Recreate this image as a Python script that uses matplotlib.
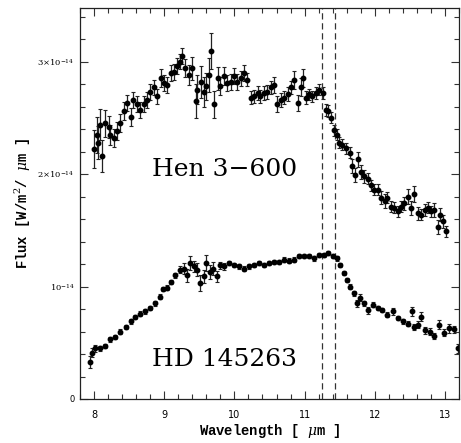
import matplotlib
matplotlib.use("Agg")
import matplotlib.pyplot as plt
from matplotlib.ticker import MultipleLocator, FixedLocator, FixedFormatter

# ---- data (flux in units of 1e-14 W/m^2/um) ----
hen_wave = [8.00, 8.04, 8.06, 8.09, 8.12, 8.16, 8.21, 8.23, 8.28, 8.33,
            8.37, 8.42, 8.47, 8.52, 8.56, 8.61, 8.66, 8.71, 8.76, 8.80,
            8.85, 8.90, 8.95, 8.99, 9.04, 9.09, 9.14, 9.18, 9.23, 9.26,
            9.30, 9.35, 9.40, 9.45, 9.47, 9.52, 9.56, 9.59, 9.64, 9.67,
            9.71, 9.76, 9.80, 9.85, 9.90, 9.95, 9.99, 10.04, 10.09, 10.14,
            10.18, 10.23, 10.28, 10.33, 10.37, 10.42, 10.47,
            10.52, 10.56, 10.61, 10.66, 10.71, 10.76, 10.80, 10.85, 10.91, 10.95,
            10.98, 11.02, 11.06, 11.11, 11.16, 11.21, 11.26, 11.30, 11.34, 11.37,
            11.42, 11.46, 11.49, 11.54, 11.59, 11.64, 11.68, 11.72, 11.76, 11.80,
            11.85, 11.90, 11.95, 11.99, 12.04, 12.09, 12.14, 12.18, 12.23, 12.28,
            12.33, 12.37, 12.42, 12.47, 12.52, 12.56, 12.61, 12.66, 12.71, 12.76,
            12.80, 12.85, 12.90, 12.93, 12.97, 13.02]
hen_flux = [2.22, 2.35, 2.28, 2.44, 2.16, 2.45, 2.42, 2.35, 2.32, 2.38,
            2.45, 2.56, 2.63, 2.51, 2.66, 2.62, 2.57, 2.62, 2.66, 2.73,
            2.77, 2.69, 2.85, 2.81, 2.79, 2.90, 2.91, 2.96, 3.00, 3.05,
            2.94, 2.88, 2.94, 2.65, 2.75, 2.82, 2.73, 2.78, 2.88, 3.09,
            2.62, 2.85, 2.78, 2.87, 2.81, 2.82, 2.87, 2.82, 2.85, 2.90,
            2.84, 2.68, 2.69, 2.72, 2.69, 2.72, 2.73,
            2.77, 2.79, 2.62, 2.66, 2.68, 2.71, 2.77, 2.84, 2.63, 2.77,
            2.85, 2.68, 2.71, 2.69, 2.72, 2.75, 2.72, 2.57, 2.56, 2.50,
            2.39, 2.35, 2.28, 2.26, 2.23, 2.19, 2.07, 1.99, 2.13, 2.02,
            1.98, 1.96, 1.90, 1.86, 1.86, 1.79, 1.76, 1.79, 1.71, 1.70,
            1.67, 1.71, 1.74, 1.80, 1.70, 1.82, 1.65, 1.64, 1.68, 1.70,
            1.67, 1.68, 1.53, 1.64, 1.58, 1.49]
hen_err = [0.17, 0.16, 0.15, 0.14, 0.14, 0.12, 0.10, 0.09, 0.08, 0.08,
           0.08, 0.08, 0.07, 0.08, 0.07, 0.07, 0.07, 0.07, 0.07, 0.07,
           0.07, 0.07, 0.08, 0.07, 0.07, 0.07, 0.07, 0.07, 0.07, 0.07,
           0.08, 0.09, 0.10, 0.15, 0.13, 0.14, 0.13, 0.12, 0.15, 0.16,
           0.12, 0.10, 0.08, 0.08, 0.07, 0.07, 0.07, 0.07, 0.07, 0.07,
           0.06, 0.06, 0.06, 0.06, 0.06, 0.06, 0.06,
           0.06, 0.07, 0.07, 0.06, 0.06, 0.06, 0.06, 0.08, 0.07, 0.08,
           0.08, 0.06, 0.05, 0.05, 0.05, 0.05, 0.05, 0.05, 0.05, 0.05,
           0.05, 0.05, 0.05, 0.05, 0.05, 0.05, 0.06, 0.06, 0.07, 0.06,
           0.06, 0.05, 0.05, 0.05, 0.05, 0.06, 0.06, 0.05, 0.05, 0.05,
           0.05, 0.05, 0.06, 0.07, 0.06, 0.07, 0.06, 0.05, 0.05, 0.05,
           0.05, 0.06, 0.06, 0.06, 0.06, 0.05]

hd_wave = [7.94, 7.97, 8.02, 8.09, 8.16, 8.23, 8.30, 8.37, 8.45, 8.52,
           8.59, 8.66, 8.73, 8.80, 8.87, 8.94, 8.98, 9.04, 9.09, 9.16,
           9.23, 9.28, 9.33, 9.37, 9.42, 9.46, 9.51, 9.56, 9.60, 9.65,
           9.70, 9.75, 9.79, 9.85, 9.92, 9.99, 10.06, 10.14, 10.21, 10.28,
           10.35, 10.42, 10.49, 10.56, 10.64, 10.71, 10.78, 10.85, 10.92, 10.99,
           11.06, 11.14, 11.21, 11.28, 11.33, 11.40, 11.46, 11.51, 11.56, 11.60,
           11.65, 11.70, 11.75, 11.79, 11.85, 11.91, 11.97, 12.04, 12.11, 12.18,
           12.26, 12.33, 12.40, 12.47, 12.53, 12.56, 12.61, 12.66, 12.71, 12.78,
           12.85, 12.92, 12.99, 13.06, 13.13, 13.18]
hd_flux = [0.33, 0.41, 0.45, 0.45, 0.47, 0.53, 0.55, 0.60, 0.64, 0.69,
           0.73, 0.76, 0.78, 0.81, 0.85, 0.91, 0.98, 0.99, 1.04, 1.10,
           1.15, 1.16, 1.10, 1.21, 1.18, 1.15, 1.03, 1.09, 1.21, 1.13,
           1.16, 1.09, 1.19, 1.18, 1.21, 1.19, 1.18, 1.16, 1.18, 1.19,
           1.21, 1.19, 1.21, 1.22, 1.22, 1.24, 1.23, 1.24, 1.27, 1.27,
           1.27, 1.25, 1.28, 1.28, 1.30, 1.27, 1.25, 1.19, 1.12, 1.06,
           1.00, 0.94, 0.85, 0.90, 0.85, 0.79, 0.84, 0.81, 0.79, 0.75,
           0.78, 0.72, 0.69, 0.67, 0.78, 0.64, 0.66, 0.73, 0.61, 0.60,
           0.56, 0.66, 0.59, 0.63, 0.62, 0.45]
hd_err = [0.05, 0.04, 0.03, 0.02, 0.02, 0.02, 0.02, 0.02, 0.02, 0.02,
          0.02, 0.02, 0.02, 0.02, 0.02, 0.02, 0.02, 0.02, 0.02, 0.02,
          0.03, 0.05, 0.06, 0.06, 0.05, 0.06, 0.07, 0.06, 0.07, 0.06,
          0.06, 0.05, 0.03, 0.03, 0.02, 0.02, 0.02, 0.02, 0.02, 0.02,
          0.02, 0.02, 0.02, 0.02, 0.02, 0.02, 0.02, 0.02, 0.02, 0.02,
          0.02, 0.02, 0.02, 0.02, 0.02, 0.02, 0.02, 0.02, 0.02, 0.02,
          0.02, 0.02, 0.03, 0.03, 0.02, 0.03, 0.02, 0.02, 0.02, 0.02,
          0.03, 0.02, 0.02, 0.02, 0.04, 0.03, 0.03, 0.04, 0.03, 0.03,
          0.03, 0.04, 0.03, 0.04, 0.03, 0.04]

scale = 1e-14
feature_lines = [11.25, 11.44]
star_names = ["Hen 3\u2212600", "HD 145263"]
star_label_pos = [(8.83, 1.98), (8.82, 0.29)]

y_major = [0, 1, 2, 3]
y_major_labels = ["0", r"$10^{-14}$", r"$2{\times}10^{-14}$", r"$3{\times}10^{-14}$"]

plt.rcParams["mathtext.fontset"] = "dejavuserif"

fig = plt.figure(figsize=(4.61, 4.43), dpi=100)
ax = fig.add_axes([80 / 461, 44 / 443, 379 / 461, 391.5 / 443])

for w, f, e in [(hen_wave, hen_flux, hen_err), (hd_wave, hd_flux, hd_err)]:
    ax.errorbar(w, [v * scale for v in f], yerr=[v * scale for v in e],
                fmt="o", ms=3.2, mfc="black", mec="black", color="black",
                ecolor="#222222", elinewidth=0.9, capsize=1.6, capthick=0.8)

for xl in feature_lines:
    ax.axvline(xl, color="#333333", lw=0.9, ls=(0, (5, 3)))

for name, (lx, ly) in zip(star_names, star_label_pos):
    ax.text(lx, ly * scale, name, fontsize=18, family="DejaVu Serif",
            ha="left", va="baseline", color="black")

ax.set_xlim(7.8, 13.2)
ax.set_ylim(0, 3.48 * scale)

ax.xaxis.set_major_locator(MultipleLocator(1))
ax.xaxis.set_minor_locator(MultipleLocator(0.2))
ax.yaxis.set_major_locator(FixedLocator([v * scale for v in y_major]))
ax.yaxis.set_major_formatter(FixedFormatter(y_major_labels))
ax.yaxis.set_minor_locator(MultipleLocator(0.2 * scale))

ax.tick_params(which="both", direction="in", top=True, right=True,
               labelsize=7, width=0.8, color="#333333")
ax.tick_params(which="major", length=6)
ax.tick_params(which="minor", length=3.5)
ax.tick_params(axis="x", pad=8)
ax.tick_params(axis="y", labelsize=6, pad=4)
for sp in ax.spines.values():
    sp.set_linewidth(0.9)
    sp.set_color("#222222")

ax.set_xlabel(r"Wavelength [ $\mu$m ]", fontsize=10, family="Liberation Mono",
              fontweight="bold", labelpad=1)
ax.set_ylabel(r"Flux [W/m$^2$/ $\mu$m ]", fontsize=10, family="Liberation Mono",
              fontweight="bold", labelpad=3)

fig.savefig("out.png", dpi=100)
